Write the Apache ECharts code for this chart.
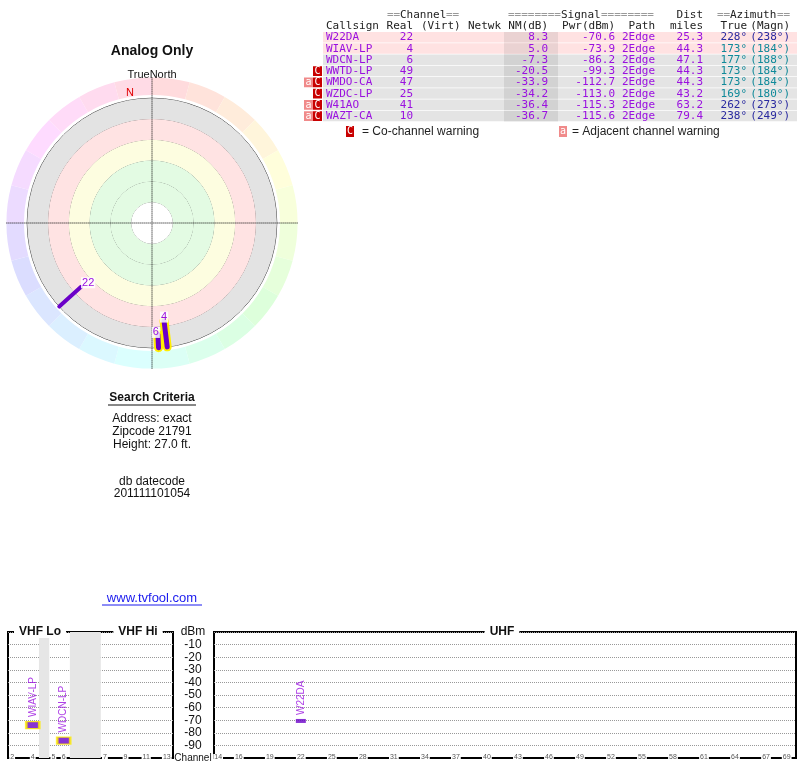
<!DOCTYPE html>
<html><head><meta charset="utf-8">
<script src="https://cdn.jsdelivr.net/npm/echarts@6/dist/echarts.min.js"></script>
<style>html,body{margin:0;padding:0;background:#fff}#c{width:800px;height:768px}</style>
</head><body><div id="c"></div>
<script>
const callsigns = ['W22DA','WIAV-LP','WDCN-LP','WWTD-LP','WMDO-CA','WZDC-LP','W41AO','WAZT-CA'];
const realCh = [22,4,6,49,47,25,41,10];
const nmDb = [8.3,5.0,-7.3,-20.5,-33.9,-34.2,-36.4,-36.7];
const pwrDbm = [-70.6,-73.9,-86.2,-99.3,-112.7,-113.0,-115.3,-115.6];
const paths = ['2Edge','2Edge','2Edge','2Edge','2Edge','2Edge','2Edge','2Edge'];
const distMiles = [25.3,44.3,47.1,44.3,44.3,43.2,63.2,79.4];
const azTrue = [228,173,177,173,173,169,262,238];
const azMagn = [238,184,188,184,184,180,273,249];
const coWarn = [0,0,0,1,1,1,1,1];
const adjWarn = [0,0,0,0,1,0,1,1];
const highlight = [0,1,1,0,0,0,0,0];
const yTicks = [-10,-20,-30,-40,-50,-60,-70,-80,-90];
const vhfLabels = [2,4,5,6,7,9,11,13];
const uhfLabels = [14,16,19,22,25,28,31,34,37,40,43,46,49,52,55,58,61,64,67,69];

const chart = echarts.init(document.getElementById('c'));
const SANS = 'Liberation Sans, Arial, sans-serif';
const MONO = 'DejaVu Sans Mono, monospace';
const PURPLE = '#9a10e0';
const BAR = '#6a00c8';

function vhfSlot(ch){ const m={2:0,3:1,4:2,5:4,6:5}; return ch<=6 ? m[ch] : ch+2; }

const g = [];
function txt(x,y,text,opt){ g.push(Object.assign({type:'text',x:x,y:y,z:100,style:Object.assign({text:text,font:'11px '+MONO,fill:'#222',textAlign:'left',textVerticalAlign:'middle'},opt||{})})); }
function rect(x,y,w,h,fill){ g.push({type:'rect',z:90,shape:{x:x,y:y,width:w,height:h},style:{fill:fill}}); }

const rowTop = 32, rowH = 11.25;
callsigns.forEach((c,i)=>{
  const y0 = rowTop + i*rowH;
  const pink = i < 2;
  rect(323, y0, 474, rowH-0.8, pink ? '#ffe2e2' : '#e4e4e4');
  rect(504, y0, 54, rowH-0.8, pink ? '#ead2d2' : '#d2d2d2');
  const yc = y0 + rowH/2;
  txt(326, yc, c, {fill:PURPLE});
  txt(413, yc, String(realCh[i]), {fill:PURPLE, textAlign:'right'});
  txt(548, yc, nmDb[i].toFixed(1), {fill:PURPLE, textAlign:'right'});
  txt(615, yc, pwrDbm[i].toFixed(1), {fill:PURPLE, textAlign:'right'});
  txt(655, yc, paths[i], {fill:PURPLE, textAlign:'right'});
  txt(703, yc, distMiles[i].toFixed(1), {fill:PURPLE, textAlign:'right'});
  const azc = (azTrue[i]===173||azTrue[i]===177||azTrue[i]===169) ? '#108a9a' : '#2a2aa0';
  txt(747, yc, azTrue[i]+'°', {fill:azc, textAlign:'right'});
  txt(790, yc, '('+azMagn[i]+'°)', {fill:azc, textAlign:'right'});
  if (coWarn[i]) { rect(313, y0+0.5, 9, rowH-1.5, '#c80000'); txt(317.5, yc, 'C', {fill:'#fff', textAlign:'center', font:'10px '+MONO}); }
  if (adjWarn[i]) { rect(304, y0+0.5, 9, rowH-1.5, '#f08a8a'); txt(308.5, yc, 'a', {fill:'#fff', textAlign:'center', font:'10px '+MONO}); }
});
const GR = '#999';
txt(387, 15, '==', {fill:GR}); txt(400, 15, 'Channel', {fill:'#222'}); txt(446, 15, '==', {fill:GR});
txt(508, 15, '========', {fill:GR}); txt(561, 15, 'Signal', {fill:'#222'}); txt(601, 15, '========', {fill:GR});
txt(703, 15, 'Dist', {textAlign:'right'});
txt(717, 15, '==', {fill:GR}); txt(730, 15, 'Azimuth', {}); txt(777, 15, '==', {fill:GR});
txt(326, 26, 'Callsign'); txt(413, 26, 'Real', {textAlign:'right'}); txt(421, 26, '(Virt)'); txt(468, 26, 'Netwk');
txt(548, 26, 'NM(dB)', {textAlign:'right'}); txt(615, 26, 'Pwr(dBm)', {textAlign:'right'});
txt(655, 26, 'Path', {textAlign:'right'}); txt(703, 26, 'miles', {textAlign:'right'});
txt(747, 26, 'True', {textAlign:'right'}); txt(790, 26, '(Magn)', {textAlign:'right'});
rect(346, 126, 8, 11, '#c80000'); txt(350, 131.5, 'C', {fill:'#fff', textAlign:'center', font:'10px '+MONO});
txt(362, 131.5, '= Co-channel warning', {font:'12px '+SANS});
rect(559, 126, 8, 11, '#f08a8a'); txt(563, 131.5, 'a', {fill:'#fff', textAlign:'center', font:'10px '+MONO});
txt(572, 131.5, '= Adjacent channel warning', {font:'12px '+SANS});

function ctext(x,y,t,opt){ txt(x,y,t,Object.assign({textAlign:'center',font:'12px '+SANS,fill:'#111'},opt||{})); }
ctext(152, 51, 'Analog Only', {font:'bold 14px '+SANS});
ctext(152, 75, 'TrueNorth', {font:'11px '+SANS});
ctext(130, 93, 'N', {font:'11px '+SANS, fill:'#e00000'});
ctext(152, 398, 'Search Criteria', {font:'bold 12px '+SANS});
g.push({type:'line',z:100,shape:{x1:108,y1:405,x2:196,y2:405},style:{stroke:'#111',lineWidth:1}});
ctext(152, 419, 'Address: exact');
ctext(152, 432, 'Zipcode 21791');
ctext(152, 445, 'Height: 27.0 ft.');
ctext(152, 482, 'db datecode');
ctext(152, 494, '201111101054');
ctext(152, 598, 'www.tvfool.com', {fill:'#1a1aee', font:'13px '+SANS});
g.push({type:'line',z:100,shape:{x1:102,y1:605,x2:202,y2:605},style:{stroke:'#1a1aee',lineWidth:1}});
function ttl(x,t){ txt(x, 632, t, {textAlign:'center', font:'bold 12px '+SANS, fill:'#111', backgroundColor:'#fff', padding:[0,5]}); }
ttl(40,'VHF Lo'); ttl(138,'VHF Hi'); ttl(502,'UHF');
ctext(193, 632, 'dBm', {font:'12px '+SANS});
ctext(193, 758, 'Channel', {font:'10px '+SANS});

const ring = [];
for (let i=0;i<24;i++){ const h=(350+i*15+7.5)%360; ring.push({value:1, itemStyle:{color:'hsl('+h+',100%,93%)'}}); }

const polarSeries = [];
[0,1,2].forEach(i=>{
  const data = [[-20, azTrue[i]], [nmDb[i], azTrue[i]]];
  if (highlight[i]) polarSeries.push({type:'line',coordinateSystem:'polar',polarIndex:0,data:data,symbol:'none',z:4,
    lineStyle:{color:'#ffee00',width:9,cap:'round'},silent:true});
  const offs = {22:[7,7],4:[0,7],6:[-2,9]}[realCh[i]];
  polarSeries.push({type:'line',coordinateSystem:'polar',polarIndex:0,z:5,symbol:'circle',symbolSize:1,
    itemStyle:{color:'rgba(0,0,0,0)'},lineStyle:{color:BAR,width:highlight[i]?5:4,cap:'round'},
    data:[{value:data[0],label:{show:false}},{value:data[1],label:{show:true,position:'top',offset:offs,formatter:String(realCh[i]),
      color:PURPLE,fontSize:11,fontFamily:SANS,backgroundColor:'rgba(255,255,255,0.85)',padding:[0,1]}}]});
});

const vhfData=[], uhfData=[];
[0,1,2].forEach(i=>{
  const d = {value:[realCh[i]<=13?vhfSlot(realCh[i]):realCh[i], pwrDbm[i]], name:callsigns[i],
    symbolSize: highlight[i] ? [13,7] : [10,4],
    itemStyle:{color:BAR,borderColor:highlight[i]?'#ffee00':BAR,borderWidth:highlight[i]?2:0}};
  (realCh[i]<=13?vhfData:uhfData).push(d);
});
const specLabel = {show:true,position:'top',rotate:90,align:'left',verticalAlign:'middle',distance:4,formatter:'{b}',color:PURPLE,fontSize:10,fontFamily:SANS};

const xCommon = {type:'value',axisLine:{show:true,onZero:false,lineStyle:{color:'#000',width:2}},axisTick:{show:false},splitLine:{show:false},
  axisLabel:{fontSize:7,color:'#555',margin:-4,backgroundColor:'#fff',padding:[0,1],fontFamily:SANS}};
const yCommon = {type:'value',min:-100,max:0,interval:10,axisLine:{show:false},axisTick:{show:false},
  splitLine:{show:true,lineStyle:{color:'#999',type:'dotted',width:1}}};

chart.setOption({
  animation:false,
  graphic:g,
  polar:{center:[152,223],radius:145.6},
  angleAxis:{type:'value',min:0,max:360,interval:90,startAngle:90,clockwise:true,z:3,
    axisLine:{show:false},axisTick:{show:false},axisLabel:{show:false},
    splitLine:{show:true,lineStyle:{color:'#000',type:'dotted',width:1}}},
  radiusAxis:{type:'value',min:-40,max:100,interval:20,inverse:true,z:0,
    axisLine:{show:false},axisTick:{show:false},axisLabel:{show:false},
    splitLine:{show:true,lineStyle:{color:['rgba(0,0,0,0)','#444','#444','#444','#444','#444','#444','rgba(0,0,0,0)'],width:1}},
    splitArea:{show:true,areaStyle:{color:['rgba(0,0,0,0)','#e3e3e3','#ffe3e3','#fdfde0','#e3fbe3','#e3fbe3','#ffffff']}}},
  grid:[
    {left:8,right:627,top:632,bottom:10,show:true,borderColor:'#000',borderWidth:2,backgroundColor:'transparent'},
    {left:214,right:4,top:632,bottom:10,show:true,borderColor:'#000',borderWidth:2,backgroundColor:'transparent'}
  ],
  xAxis:[
    Object.assign({},xCommon,{gridIndex:0,min:-0.4,max:15.6,
      axisLabel:Object.assign({},xCommon.axisLabel,{customValues:vhfLabels.map(vhfSlot),formatter:v=>{const k=vhfLabels.find(c=>vhfSlot(c)===Math.round(v));return k===undefined?'':String(k);}})}),
    Object.assign({},xCommon,{gridIndex:1,min:13.6,max:69.9,
      axisLabel:Object.assign({},xCommon.axisLabel,{customValues:uhfLabels,formatter:v=>String(Math.round(v))})})
  ],
  yAxis:[
    Object.assign({},yCommon,{gridIndex:0,position:'right',axisLabel:{show:true,margin:20,align:'center',fontSize:12,color:'#111',fontFamily:SANS,
      formatter:v=>yTicks.indexOf(v)>=0?String(v):''}}),
    Object.assign({},yCommon,{gridIndex:1,axisLabel:{show:false}})
  ],
  series:[
    {type:'pie',center:[152,223],radius:[128,145.6],z:1,silent:true,label:{show:false},labelLine:{show:false},
      startAngle:90,clockwise:true,data:ring,itemStyle:{borderWidth:0}},
    ...polarSeries,
    {type:'scatter',xAxisIndex:0,yAxisIndex:0,symbol:'rect',data:vhfData,label:specLabel,z:5,
      markArea:{silent:true,itemStyle:{color:'#e6e6e6'},data:[[{xAxis:2.6},{xAxis:3.6}],[{xAxis:5.6},{xAxis:8.6}]]}},
    {type:'scatter',xAxisIndex:1,yAxisIndex:1,symbol:'rect',data:uhfData,label:specLabel,z:5}
  ]
});
</script></body></html>
